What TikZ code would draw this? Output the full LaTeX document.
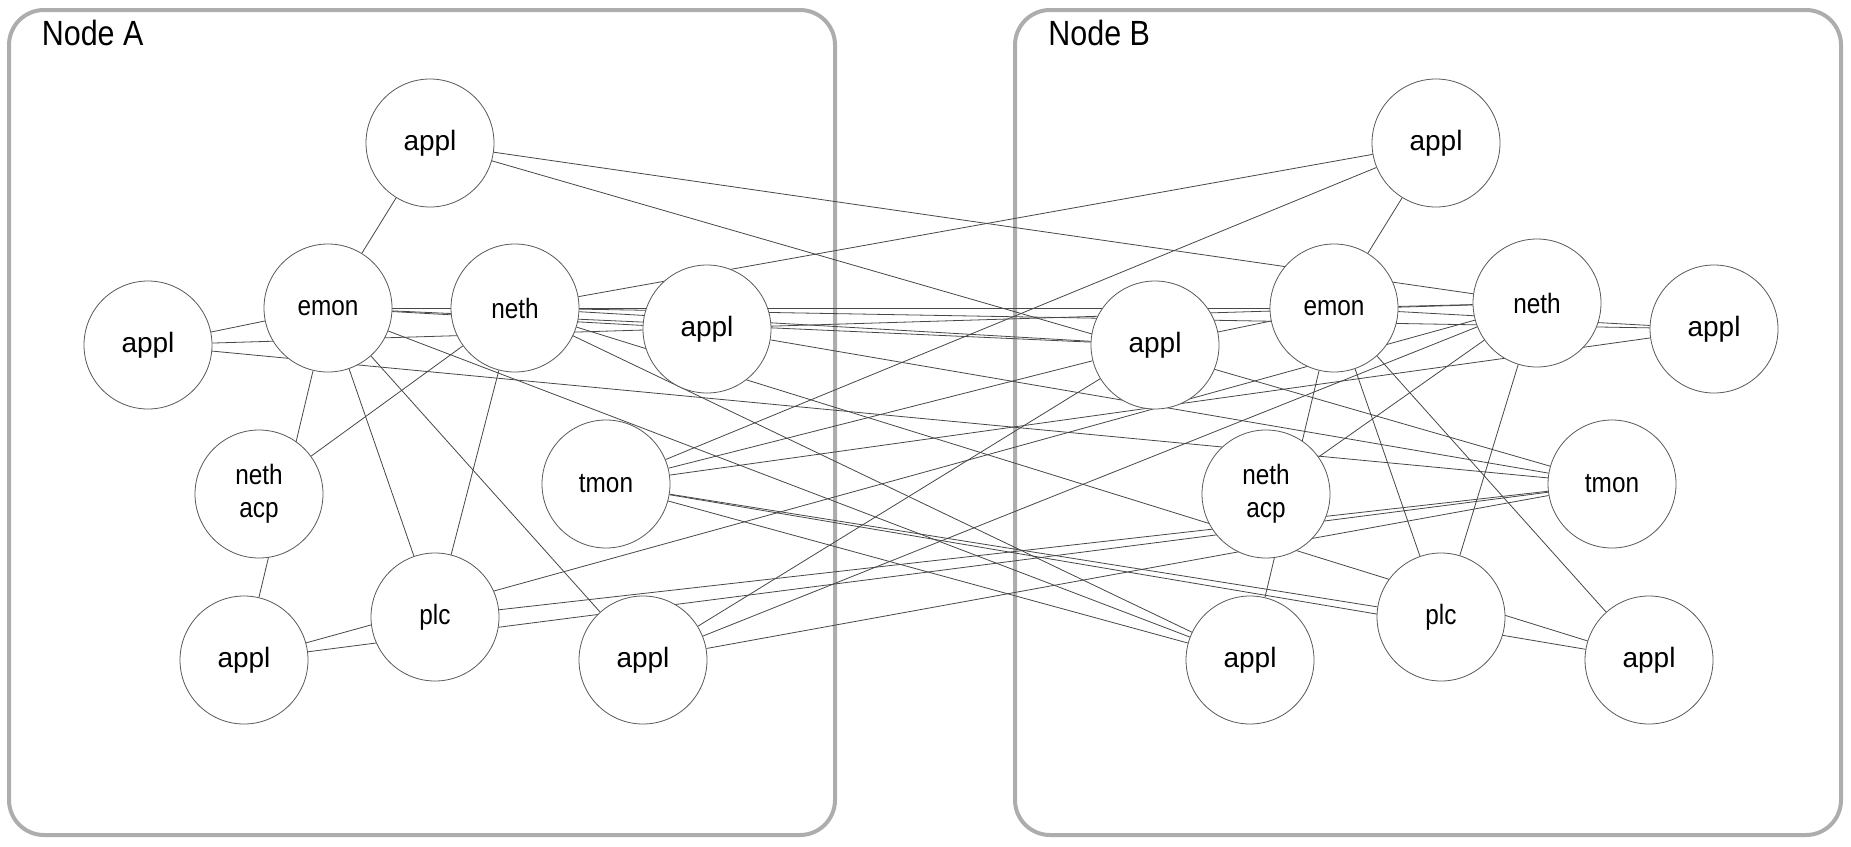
\documentclass[tikz,border=0pt]{standalone}
\usepackage{fontspec}
\setmainfont{Liberation Sans}
\newfontfamily\narrowfont[FakeStretch=0.87]{Liberation Sans}
\usetikzlibrary{backgrounds}
\tikzset{
  comp/.style={circle, draw=black!65, fill=white, line width=0.4pt, minimum size=64pt, inner sep=0pt, align=center},
  applnode/.style={comp, font=\fontsize{14pt}{16pt}\selectfont},
  sysnode/.style={comp, font=\narrowfont\fontsize{14pt}{16.5pt}\selectfont},
  edge/.style={draw=black!72, line width=0.4pt},
  hostbox/.style={draw=black!32, line width=2pt, rounded corners=17.5pt},
  hostlabel/.style={anchor=base west, inner sep=0pt, font=\narrowfont\fontsize{17.5pt}{20pt}\selectfont}
}
\begin{document}
\begin{tikzpicture}[x=0.5pt,y=-0.5pt]
\useasboundingbox (0,0) rectangle (1851,846);
% Node A
\node[hostlabel] (labA) at (41.5,45) {Node A};
\node[applnode] (aTop)  at (430,143) {appl};
\node[sysnode]  (aEmon) at (328,308) {emon};
\node[sysnode]  (aNeth) at (515,308) {neth};
\node[applnode] (aLeft) at (148,345) {appl};
\node[applnode] (aMid)  at (707,329) {appl};
\node[sysnode]  (aAcp)  at (259,494) {neth\\acp};
\node[sysnode]  (aTmon) at (606,484) {tmon};
\node[sysnode]  (aPlc)  at (435,617) {plc};
\node[applnode] (aBL)   at (244,660) {appl};
\node[applnode] (aBM)   at (643,660) {appl};
% Node B
\node[hostlabel] (labB) at (1048,45) {Node B};
\node[applnode] (bTop)   at (1436,143) {appl};
\node[sysnode]  (bEmon)  at (1334,308) {emon};
\node[sysnode]  (bNeth)  at (1537,303) {neth};
\node[applnode] (bRight) at (1714,329) {appl};
\node[applnode] (bMid)   at (1155,345) {appl};
\node[sysnode]  (bAcp)   at (1266,494) {neth\\acp};
\node[sysnode]  (bTmon)  at (1612,484) {tmon};
\node[sysnode]  (bPlc)   at (1441,617) {plc};
\node[applnode] (bB1)    at (1250,660) {appl};
\node[applnode] (bB2)    at (1649,660) {appl};
\begin{scope}[on background layer]
  \draw[hostbox] (9,10) rectangle (835,835);
  \draw[hostbox] (1015,10) rectangle (1841,835);
  \foreach \u/\v in {
    aTop/aEmon, aLeft/aEmon, aEmon/aNeth, aEmon/aMid, aEmon/aBL, aNeth/aAcp,
    aEmon/aPlc, aNeth/aPlc, aEmon/aBM,
    bTop/bEmon, bMid/bEmon, bEmon/bNeth, bEmon/bRight, bEmon/bB1, bNeth/bAcp,
    bEmon/bPlc, bNeth/bPlc, bEmon/bB2,
    aTop/bNeth, aTop/bTmon, aLeft/bNeth, aLeft/bTmon, aEmon/bEmon, aEmon/bMid,
    aEmon/bB1, aNeth/bTop, aNeth/bMid, aNeth/bB1, aNeth/bB2, aNeth/bRight,
    aMid/bTmon, aTmon/bTop, aTmon/bMid, aTmon/bRight, aTmon/bPlc, aTmon/bB1,
    aTmon/bB2, aPlc/bTmon, aBL/bNeth, aBL/bTmon, aBM/bMid,
    aBM/bNeth, aBM/bTmon}
    \draw[edge] (\u) -- (\v);
\end{scope}
\end{tikzpicture}
\end{document}
